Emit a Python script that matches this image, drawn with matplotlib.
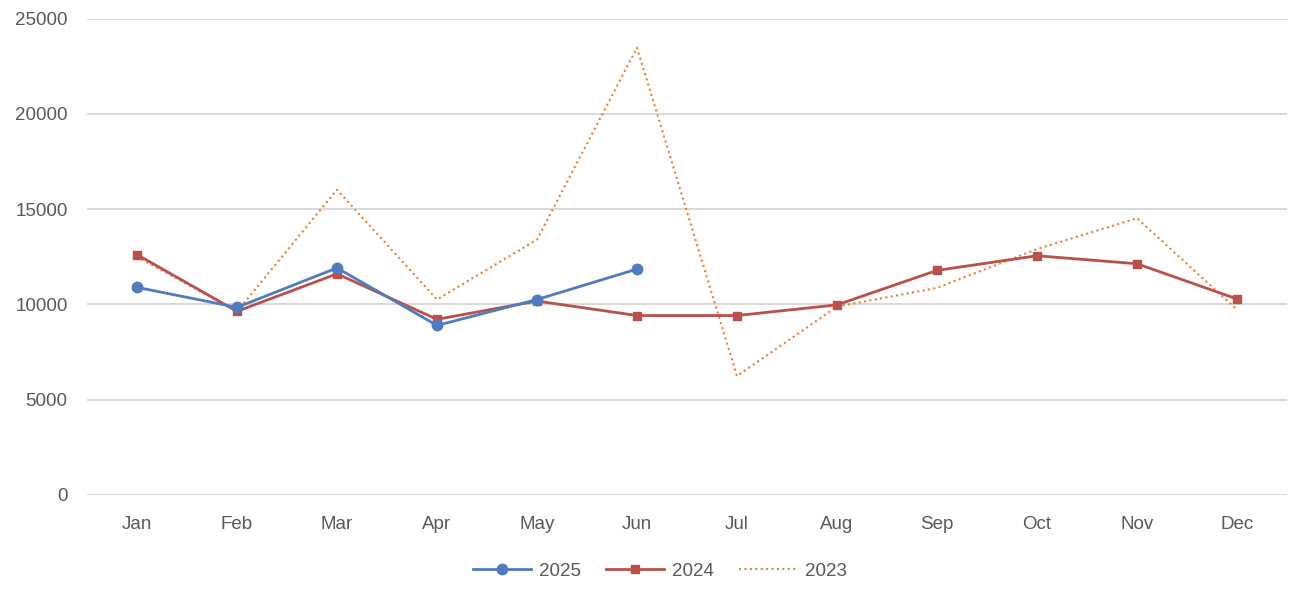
import matplotlib
matplotlib.use("Agg")
import matplotlib.pyplot as plt

months = ["Jan", "Feb", "Mar", "Apr", "May", "Jun", "Jul", "Aug", "Sep", "Oct", "Nov", "Dec"]
s2025 = [10890, 9840, 11910, 8890, 10250, 11850]
s2024 = [12610, 9630, 11600, 9210, 10170, 9410, 9410, 9970, 11780, 12550, 12130, 10280]
s2023 = [12500, 9620, 16020, 10250, 13400, 23480, 6230, 9880, 10860, 12900, 14520, 9720]
yticks = [0, 5000, 10000, 15000, 20000, 25000]

plt.rcParams['font.family'] = ['Liberation Sans', 'DejaVu Sans']

fig = plt.figure(figsize=(13.08, 5.98), dpi=100)
ax = fig.add_axes([87/1308, (598-494.7)/598, 1200/1308, 476/598])

x = list(range(len(months)))
ax.plot(x[:len(s2025)], s2025, color="#4F7CC0", lw=2.0, marker="o", ms=7.5, label="2025", zorder=4)
ax.plot(x, s2024, color="#B9504A", lw=2.0, marker="s", ms=6, label="2024", zorder=3)
ax.plot(x, s2023, color="#ED7D31", lw=1.5, linestyle=(0, (1, 1.6)), label="2023", zorder=2)

ax.set_xlim(-0.5, 11.5)
ax.set_ylim(0, 25000)
ax.set_xticks(x)
ax.set_xticklabels(months)
ax.set_yticks(yticks)
ax.set_yticklabels([str(v) for v in yticks])
ax.tick_params(axis='both', length=0, labelsize=13.5, labelcolor="#595959")
ax.tick_params(axis='y', pad=14)
ax.tick_params(axis='x', pad=15)
ax.grid(axis='y', color="#D9D9D9", lw=1.4)
ax.set_axisbelow(True)
for s in ax.spines.values():
    s.set_visible(False)

leg = fig.legend(loc='center', bbox_to_anchor=(660/1308, 1 - 571/598), ncol=3, frameon=False,
                 fontsize=13.5, handlelength=3.1, handletextpad=0.45, columnspacing=1.3)
for t in leg.get_texts():
    t.set_color("#595959")

fig.savefig("out.png", dpi=100)
